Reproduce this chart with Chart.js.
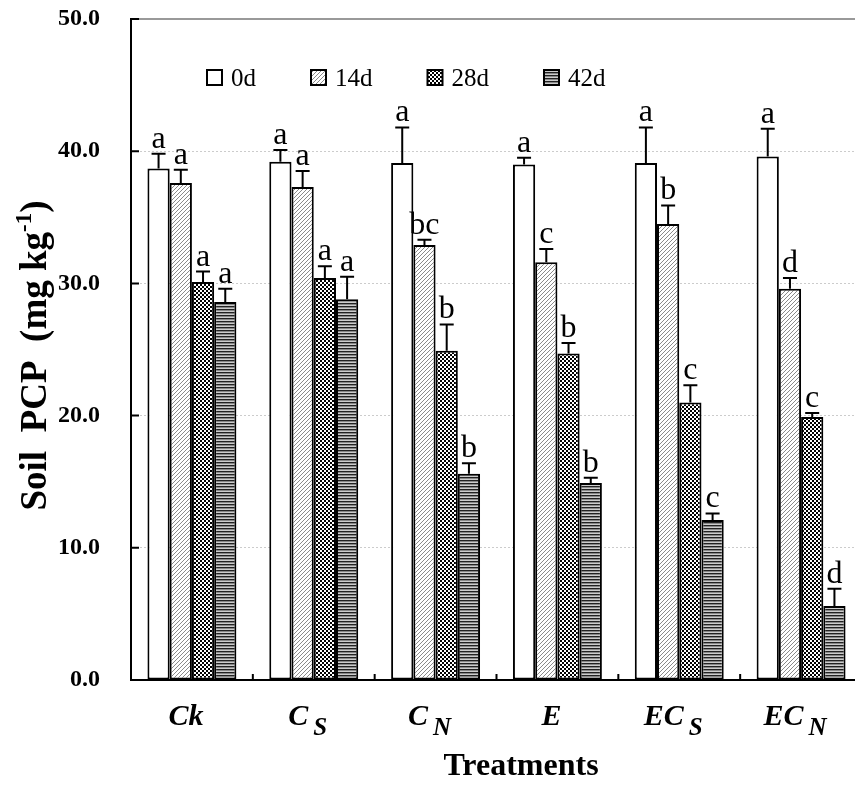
<!DOCTYPE html>
<html>
<head>
<meta charset="utf-8">
<script src="https://cdn.jsdelivr.net/npm/chart.js@4.4.1/dist/chart.umd.min.js"></script>
<style>
  body { margin: 0; background: #fff; overflow: hidden; }
  #wrap { width: 870px; height: 787px; }
</style>
</head>
<body>
<div id="wrap"><canvas id="chart"></canvas></div>
<script>
// Soil PCP by treatment and incubation time
const treatments = ["Ck", "C_S", "C_N", "E", "EC_S", "EC_N"];
const labelMain = ["Ck", "C", "C", "E", "EC", "EC"];
const labelSub = ["", "S", "N", "", "S", "N"];
const days = ["0d", "14d", "28d", "42d"];

const pcp0d = [38.7, 39.2, 39.1, 39.0, 39.1, 39.6];
const pcp14d = [37.6, 37.3, 32.9, 31.6, 34.5, 29.6];
const pcp28d = [30.1, 30.4, 24.9, 24.7, 21.0, 19.9];
const pcp42d = [28.6, 28.8, 15.6, 14.9, 12.1, 5.6];

const err0d = [1.1, 0.9, 2.7, 0.5, 2.7, 2.1];
const err14d = [1.0, 1.2, 0.4, 1.0, 1.4, 0.8];
const err28d = [0.8, 0.9, 2.0, 0.8, 1.3, 0.3];
const err42d = [1.0, 1.7, 0.8, 0.4, 0.5, 1.3];

const sig0d = ["a", "a", "a", "a", "a", "a"];
const sig14d = ["a", "a", "bc", "c", "b", "d"];
const sig28d = ["a", "a", "b", "b", "c", "c"];
const sig42d = ["a", "a", "b", "b", "c", "d"];

const yTicks = [0, 10, 20, 30, 40, 50];

const SERIF = "'Liberation Serif', 'Times New Roman', serif";

// fill patterns
function makePattern(w, h, paint) {
  const c = document.createElement("canvas");
  c.width = w;
  c.height = h;
  const x = c.getContext("2d");
  x.fillStyle = "#fff";
  x.fillRect(0, 0, w, h);
  paint(x);
  return x.createPattern(c, "repeat");
}

const hatch = makePattern(4, 4, (x) => {
  x.strokeStyle = "#8a8a8a";
  x.lineWidth = 1;
  x.beginPath();
  x.moveTo(-1, 5); x.lineTo(5, -1);
  x.moveTo(-1, 1); x.lineTo(1, -1);
  x.moveTo(3, 5); x.lineTo(5, 3);
  x.stroke();
});
const checker = makePattern(4, 4, (x) => {
  x.fillStyle = "#000";
  x.fillRect(0, 0, 2, 2);
  x.fillRect(2, 2, 2, 2);
});
const stripes = makePattern(1, 3, (x) => {
  x.fillStyle = "#222";
  x.fillRect(0, 0, 1, 1);
  x.fillStyle = "#888";
  x.fillRect(0, 1, 1, 1);
  x.fillStyle = "#ccc";
  x.fillRect(0, 2, 1, 1);
});

const series = [pcp0d, pcp14d, pcp28d, pcp42d];
const errors = [err0d, err14d, err28d, err42d];
const letters = [sig0d, sig14d, sig28d, sig42d];
const fills = ["#fff", hatch, checker, stripes];

// extra drawing: error bars, letters, legend, axis labels
const decorations = {
  id: "decorations",
  afterDatasetsDraw(chart) {
    const ctx = chart.ctx;
    const y = chart.scales.y;
    ctx.save();
    chart.data.datasets.forEach((ds, i) => {
      const meta = chart.getDatasetMeta(i);
      meta.data.forEach((bar, j) => {
        const top = y.getPixelForValue(ds.data[j] + errors[i][j]);
        ctx.strokeStyle = "#000";
        ctx.lineWidth = 2;
        ctx.beginPath();
        ctx.moveTo(bar.x, bar.y);
        ctx.lineTo(bar.x, top);
        ctx.moveTo(bar.x - 7, top);
        ctx.lineTo(bar.x + 7, top);
        ctx.stroke();

        ctx.fillStyle = "#000";
        ctx.font = `32px ${SERIF}`;
        ctx.textAlign = "center";
        ctx.textBaseline = "alphabetic";
        ctx.fillText(letters[i][j], bar.x, top - 6);
      });
    });
    ctx.restore();
  },
  afterDraw(chart) {
    const ctx = chart.ctx;
    const x = chart.scales.x;
    const y = chart.scales.y;
    const area = chart.chartArea;
    ctx.save();
    ctx.strokeStyle = "#000";
    ctx.lineWidth = 2;

    // inward ticks on y axis
    ctx.beginPath();
    yTicks.forEach((v) => {
      const py = y.getPixelForValue(v);
      ctx.moveTo(area.left, py);
      ctx.lineTo(area.left + 8, py);
    });
    // small ticks between groups
    for (let i = 0; i < treatments.length - 1; i++) {
      const px = (x.getPixelForTick(i) + x.getPixelForTick(i + 1)) / 2;
      ctx.moveTo(px, area.bottom);
      ctx.lineTo(px, area.bottom - 6);
    }
    ctx.stroke();

    // category labels with subscripts
    ctx.fillStyle = "#000";
    ctx.textBaseline = "alphabetic";
    ctx.textAlign = "left";
    treatments.forEach((t, i) => {
      const mainFont = `italic bold 30px ${SERIF}`;
      const subFont = `italic bold 25px ${SERIF}`;
      ctx.font = mainFont;
      const w1 = ctx.measureText(labelMain[i]).width;
      ctx.font = subFont;
      const w2 = labelSub[i] ? ctx.measureText(labelSub[i]).width + 5 : 0;
      const start = x.getPixelForTick(i) - 6 - (w1 + w2) / 2;
      ctx.font = mainFont;
      ctx.fillText(labelMain[i], start, area.bottom + 45);
      if (labelSub[i]) {
        ctx.font = subFont;
        ctx.fillText(labelSub[i], start + w1 + 5, area.bottom + 55);
      }
    });

    // axis titles
    ctx.textAlign = "center";
    ctx.font = `bold 32px ${SERIF}`;
    ctx.fillText("Treatments", 521, area.bottom + 95);

    ctx.translate(46, (area.top + area.bottom) / 2 + 6);
    ctx.rotate(-Math.PI / 2);
    const big = `bold 37px ${SERIF}`;
    const small = `bold 23px ${SERIF}`;
    const p1 = "Soil  PCP  (mg kg";
    const sup = "-1";
    const p2 = ")";
    ctx.font = big;
    const a = ctx.measureText(p1).width;
    const c = ctx.measureText(p2).width;
    ctx.font = small;
    const b = ctx.measureText(sup).width;
    const sx = -(a + b + c) / 2;
    ctx.textAlign = "left";
    ctx.font = big;
    ctx.fillText(p1, sx, 0);
    ctx.fillText(p2, sx + a + b, 0);
    ctx.font = small;
    ctx.fillText(sup, sx + a, -15);
    ctx.restore();

    // legend
    ctx.save();
    let lx = 207;
    const ly = 78;
    ctx.font = `25px ${SERIF}`;
    ctx.textBaseline = "middle";
    chart.data.datasets.forEach((ds) => {
      ctx.fillStyle = ds.backgroundColor;
      ctx.fillRect(lx, ly - 8, 15, 15);
      ctx.strokeStyle = "#000";
      ctx.lineWidth = 2;
      ctx.strokeRect(lx, ly - 8, 15, 15);
      ctx.fillStyle = "#000";
      ctx.fillText(ds.label, lx + 24, ly + 1);
      lx += 15 + 9 + ctx.measureText(ds.label).width + 55;
    });
    ctx.restore();
  },
};

new Chart(document.getElementById("chart"), {
  type: "bar",
  data: {
    labels: treatments,
    datasets: days.map((d, i) => ({
      label: d,
      data: series[i],
      backgroundColor: fills[i],
      borderColor: "#000",
      borderWidth: 2,
      borderSkipped: false,
    })),
  },
  options: {
    responsive: true,
    maintainAspectRatio: false,
    animation: false,
    layout: { padding: { top: 19, right: 8, left: 0, bottom: 0 } },
    plugins: {
      legend: { display: false },
      tooltip: { enabled: false },
    },
    datasets: {
      bar: { categoryPercentage: 0.73, barPercentage: 1.0 },
    },
    scales: {
      x: {
        ticks: { display: false },
        grid: { display: false },
        border: { display: true, color: "#000", width: 2 },
        afterFit: (s) => { s.height = 107; },
      },
      y: {
        min: 0,
        max: 50,
        afterFit: (s) => {
          s.width = 131;
          s.paddingTop = 0;
          s.paddingBottom = 0;
        },
        ticks: {
          stepSize: 10,
          padding: 31,
          color: "#000",
          font: { family: SERIF, size: 24, weight: "bold" },
          callback: (v) => v.toFixed(1),
        },
        grid: {
          drawTicks: false,
          color: (c) => (c.tick && c.tick.value === 50 ? "#999" : c.tick && c.tick.value === 0 ? "rgba(0,0,0,0)" : "#ccc"),
          lineWidth: (c) => (c.tick && c.tick.value === 50 ? 2 : 1),
        },
        border: {
          display: true,
          color: "#000",
          width: 2,
          dash: (c) => (c.tick && c.tick.value === 50 ? [] : [2, 2]),
        },
      },
    },
  },
  plugins: [decorations],
});
</script>
</body>
</html>
